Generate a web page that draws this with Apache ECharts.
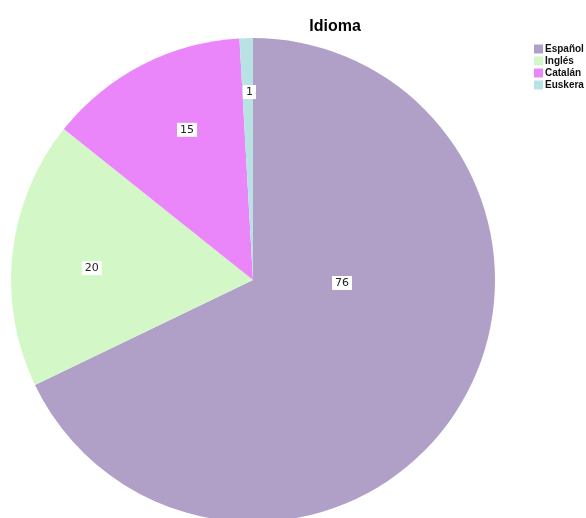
<!DOCTYPE html>
<html>
<head>
<meta charset="utf-8">
<script src="https://cdn.jsdelivr.net/npm/echarts@6/dist/echarts.min.js"></script>
<style>
  html, body { margin: 0; padding: 0; background: #fff; }
  #chart { width: 586px; height: 518px; }
</style>
</head>
<body>
<div id="chart"></div>
<script>
const categories = ['Español', 'Inglés', 'Catalán', 'Euskera'];
const values = [76, 20, 15, 1];
const colors = ['#b0a0c8', '#d4f7c8', '#ea86fa', '#b8e2e4'];
// nudges so the value boxes sit where the original plot put them
const labelShift = [[-16, -63], [-38, 2], [-9, -40], [0, -64]];

const chart = echarts.init(document.getElementById('chart'));

const option = {
  backgroundColor: '#fff',
  animation: false,
  title: {
    text: 'Idioma',
    left: 330,
    top: 14,
    textAlign: 'center',
    textStyle: { fontSize: 16, fontWeight: 'bold', color: '#000', fontFamily: 'Liberation Sans' }
  },
  legend: {
    orient: 'vertical',
    left: 529,
    top: 39,
    itemWidth: 9,
    itemHeight: 9,
    itemGap: 2,
    icon: 'rect',
    data: categories,
    textStyle: { fontSize: 10, fontWeight: 'bold', color: '#111', fontFamily: 'Liberation Sans', padding: [0, 0, 0, -3] }
  },
  series: [{
    type: 'pie',
    center: [253, 280],
    radius: 242,
    startAngle: 90,
    clockwise: true,
    silent: true,
    itemStyle: { borderWidth: 0 },
    label: {
      show: true,
      position: 'inside',
      formatter: '{c}',
      fontSize: 11,
      color: '#222',
      fontFamily: 'DejaVu Sans',
      backgroundColor: '#fff',
      padding: [2, 3, 1, 3]
    },
    labelLine: { show: false },
    labelLayout: function (params) {
      const s = labelShift[params.dataIndex];
      return { dx: s[0], dy: s[1] };
    },
    data: categories.map((name, i) => ({
      name,
      value: values[i],
      itemStyle: { color: colors[i] }
    }))
  }]
};

chart.setOption(option);
</script>
</body>
</html>
